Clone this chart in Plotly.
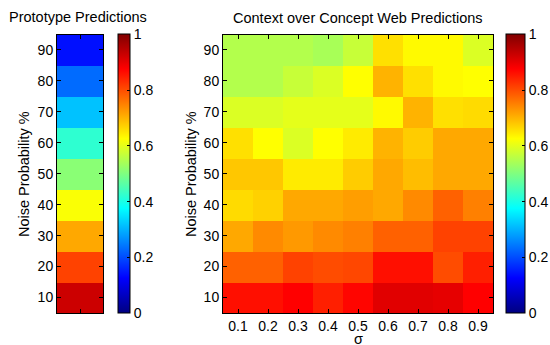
import plotly.graph_objects as go

noise = [10, 20, 30, 40, 50, 60, 70, 80, 90]
sigma = [0.1, 0.2, 0.3, 0.4, 0.5, 0.6, 0.7, 0.8, 0.9]
sigma_labels = ["0.1", "0.2", "0.3", "0.4", "0.5", "0.6", "0.7", "0.8", "0.9"]

# Prototype predictions, noise 10..90
prototype = [0.925, 0.81, 0.71, 0.62, 0.51, 0.42, 0.315, 0.23, 0.14]

# Context over Concept Web predictions: rows noise 10..90, cols sigma 0.1..0.9
context_web = [
    [0.86, 0.86, 0.875, 0.845, 0.87, 0.905, 0.905, 0.90, 0.875],   # 10
    [0.78, 0.78, 0.81, 0.80, 0.805, 0.86, 0.86, 0.80, 0.845],      # 20
    [0.71, 0.74, 0.725, 0.74, 0.75, 0.78, 0.78, 0.81, 0.81],       # 30
    [0.66, 0.67, 0.71, 0.71, 0.72, 0.71, 0.74, 0.78, 0.75],        # 40
    [0.68, 0.68, 0.645, 0.645, 0.675, 0.71, 0.69, 0.71, 0.71],     # 50
    [0.655, 0.625, 0.59, 0.625, 0.645, 0.70, 0.675, 0.71, 0.71],   # 60
    [0.59, 0.59, 0.60, 0.60, 0.60, 0.63, 0.70, 0.655, 0.66],       # 70
    [0.55, 0.55, 0.57, 0.59, 0.625, 0.70, 0.655, 0.63, 0.625],     # 80
    [0.55, 0.55, 0.55, 0.54, 0.57, 0.655, 0.63, 0.63, 0.59],       # 90
]

jet = [
    [0.0, "rgb(0,0,128)"],
    [0.125, "rgb(0,0,255)"],
    [0.375, "rgb(0,255,255)"],
    [0.625, "rgb(255,255,0)"],
    [0.875, "rgb(255,0,0)"],
    [1.0, "rgb(128,0,0)"],
]

FONT = "Liberation Sans, Arial, Helvetica, sans-serif"
TICK = 14
LAB = 14.5
W, H = 550, 345

def px_x(p):
    return p / W

def px_y(p):
    return 1 - p / H

top, bottom = 34.5, 313

cb_common = dict(
    y=px_y((top + bottom) / 2), yanchor="middle",
    len=bottom - top, lenmode="pixels", thicknessmode="pixels",
    outlinecolor="black", outlinewidth=1,
    xpad=0, ypad=0,
    tickvals=[0, 0.2, 0.4, 0.6, 0.8, 1], ticktext=["0", "0.2", "0.4", "0.6", "0.8", "1"],
    ticks="inside", ticklen=3, tickcolor="black",
    tickfont=dict(family=FONT, size=TICK, color="black"),
)

fig = go.Figure()

fig.add_trace(go.Heatmap(
    x=[1], y=noise, z=[[v] for v in prototype],
    colorscale=jet, zmin=0, zmax=1,
    xaxis="x", yaxis="y",
    colorbar=dict(x=px_x(118), xanchor="left", thickness=12, **cb_common),
))

fig.add_trace(go.Heatmap(
    x=sigma, y=noise, z=context_web,
    colorscale=jet, zmin=0, zmax=1,
    xaxis="x2", yaxis="y2",
    colorbar=dict(x=px_x(506), xanchor="left", thickness=19, **cb_common),
))

axis_common = dict(
    showline=True, linecolor="black", linewidth=1, mirror="ticks",
    ticks="inside", ticklen=4, tickcolor="black", showgrid=False, zeroline=False,
    tickfont=dict(family=FONT, size=TICK, color="black"),
)

fig.update_layout(
    width=W, height=H,
    margin=dict(l=0, r=0, t=0, b=0, autoexpand=False),
    paper_bgcolor="white", plot_bgcolor="white",
    showlegend=False,
    xaxis=dict(domain=[px_x(57), px_x(103)], range=[0.5, 1.5], tickvals=[1], ticktext=[""],
               anchor="y", **axis_common),
    yaxis=dict(domain=[px_y(bottom), px_y(top)], range=[5, 95], tickvals=noise,
               anchor="x", **axis_common),
    xaxis2=dict(domain=[px_x(223), px_x(493)], range=[0.05, 0.95], tickvals=sigma,
                ticktext=sigma_labels, anchor="y2", **axis_common),
    yaxis2=dict(domain=[px_y(bottom), px_y(top)], range=[5, 95], tickvals=noise,
                anchor="x2", **axis_common),
    annotations=[
        dict(text="Prototype Predictions", x=px_x(78), y=px_y(17), xref="paper", yref="paper",
             showarrow=False, font=dict(family=FONT, size=LAB, color="black"),
             xanchor="center", yanchor="middle"),
        dict(text="Context over Concept Web Predictions", x=px_x(358), y=px_y(18), xref="paper",
             yref="paper", showarrow=False, font=dict(family=FONT, size=LAB, color="black"),
             xanchor="center", yanchor="middle"),
        dict(text="Noise Probability %", x=px_x(24), y=px_y(174), xref="paper", yref="paper",
             showarrow=False, textangle=-90, font=dict(family=FONT, size=LAB, color="black"),
             xanchor="center", yanchor="middle"),
        dict(text="Noise Probability %", x=px_x(191), y=px_y(174), xref="paper", yref="paper",
             showarrow=False, textangle=-90, font=dict(family=FONT, size=LAB, color="black"),
             xanchor="center", yanchor="middle"),
        dict(text="σ", x=px_x(358), y=px_y(339), xref="paper", yref="paper",
             showarrow=False, font=dict(family=FONT, size=LAB, color="black"),
             xanchor="center", yanchor="middle"),
    ],
)

fig.write_html("out.html",
               config={"displayModeBar": False},
               post_script="document.body.style.margin='0';document.body.style.padding='0';")
